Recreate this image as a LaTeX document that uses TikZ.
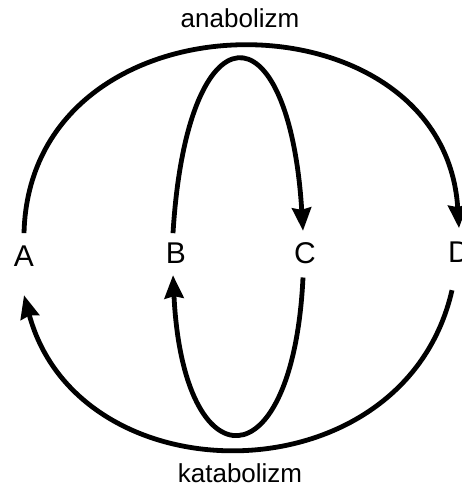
\documentclass[tikz,border=0pt]{standalone}
\usepackage{fontspec}
\setmainfont{Liberation Sans}
\usetikzlibrary{arrows.meta}

\begin{document}
\begin{tikzpicture}[
  x=1pt, y=1pt,
  letter/.style={inner sep=0pt, anchor=base, font=\fontsize{30}{32}\selectfont},
  title/.style={inner sep=0pt, anchor=base, font=\fontsize{26}{28}\selectfont},
  arrow/.style={-{Stealth[length=23pt, width=19pt, inset=2pt]}, line width=4.8pt}
]
\useasboundingbox (0,0) rectangle (462,487);

\node[letter] (A) at (24,220) {A};
\node[letter] (B) at (176,223) {B};
\node[letter] (C) at (305,223) {C};
\node[letter] (D) at (459,224) {D};

\node[title] (ana) at (240,459) {anabolizm};
\node[title] (kata) at (240,5) {katabolizm};

\draw[arrow] ([yshift=13pt]A.north) .. controls +(6,247) and +(-15,242) .. ([yshift=14pt]D.north);
\draw[arrow] ([xshift=-7pt,yshift=-27pt]D.south) .. controls +(-48,-210) and +(55,-205) .. ([yshift=-28pt]A.south);
\draw[arrow] ([xshift=-3pt,yshift=10pt]B.north) .. controls +(14,230) and +(-14,228) .. ([xshift=-2pt,yshift=12pt]C.north);
\draw[arrow] ([xshift=-2pt,yshift=-13pt]C.south) .. controls +(-10,-208) and +(10,-210) .. ([xshift=-3pt,yshift=-11pt]B.south);
\end{tikzpicture}
\end{document}
